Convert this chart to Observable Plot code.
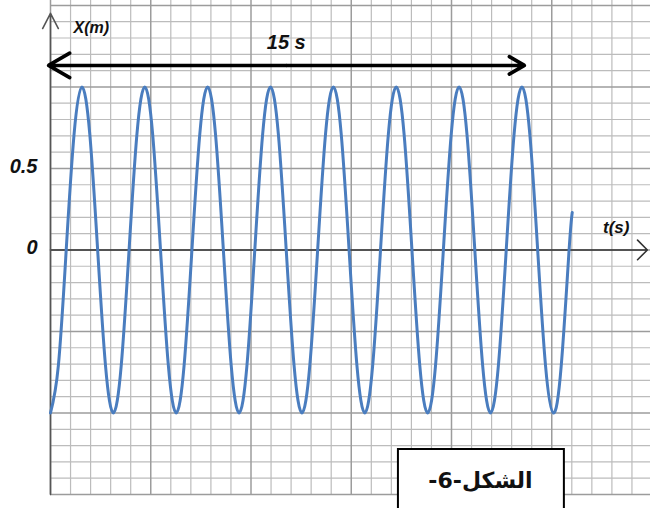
<!DOCTYPE html>
<html><head><meta charset="utf-8">
<script src="https://cdn.jsdelivr.net/npm/d3@7"></script>
<script src="https://cdn.jsdelivr.net/npm/@observablehq/plot@0.6"></script>
<style>html,body{margin:0;padding:0;background:#fff} #chart svg{display:block}</style>
</head><body><div id="chart"></div>
<script>
// Oscillation: t (s) and X (m)
const time = [0,0.25,0.5,0.75,1,1.25,1.5,1.75,2,2.25,2.5,2.75,3,3.25,3.5,3.75,4,4.25,4.5,4.75,5,5.25,5.5,5.75,6,6.25,6.5,6.75,7,7.25,7.5,7.75,8,8.25,8.5,8.75,9,9.25,9.5,9.75,10,10.25,10.5,10.75,11,11.25,11.5,11.75,12,12.25,12.5,12.75,13,13.25,13.5,13.75,14,14.25,14.5,14.75,15,15.25,15.5,15.75,16,16.25,16.5,16.6];
const position = [
  -1,-0.71,0,0.71,1,0.71,0,-0.71,
  -1,-0.71,0,0.71,1,0.71,0,-0.71,
  -1,-0.71,0,0.71,1,0.71,0,-0.71,
  -1,-0.71,0,0.71,1,0.71,0,-0.71,
  -1,-0.71,0,0.71,1,0.71,0,-0.71,
  -1,-0.71,0,0.71,1,0.71,0,-0.71,
  -1,-0.71,0,0.71,1,0.71,0,-0.71,
  -1,-0.71,0,0.71,1,0.71,0,-0.71,
  -1,-0.71,0,0.23
];
const yTickValues = [0.5, 0];
const yTickLabels = ["0.5", "0"];
const xAxisLabel = "t(s)";
const yAxisLabel = "X(m)";
const spanLabel = "15 s";
const spanStart = 0, spanEnd = 15;
const figureLabel = "الشكل-6-\u200F";

const xMax = 19.09;
const yMin = -1.5, yMax = 1.53;
const gridStepT = 20.05 / 31.43;   // graph-paper square width in seconds
const gridStepY = 0.1;

const gridV = d3.range(0, 30).map(k => ({t: k * gridStepT, major: k % 5 === 0}));
const gridH = d3.range(-15, 16).map(k => ({y: k * gridStepY, major: k % 5 === 0}));
const curve = time.map((t, i) => ({t, x: position[i]}));
const ticks = yTickValues.map((v, i) => ({v, label: yTickLabels[i]}));

const labelFont = {fontFamily: "Liberation Sans, Arial, sans-serif", fontWeight: "bold", fontStyle: "italic", fill: "#111"};

const chart = Plot.plot({
  width: 650, height: 508,
  marginLeft: 50, marginRight: 0, marginTop: 0, marginBottom: 14,
  x: {domain: [0, xMax], axis: null},
  y: {domain: [yMin, yMax], axis: null},
  style: {background: "#fff", overflow: "visible"},
  marks: [
    Plot.ruleY(gridH.filter(d => !d.major), {y: "y", x1: 0, x2: xMax, stroke: "#bcbcbc", strokeWidth: 1.2}),
    Plot.ruleX(gridV.filter(d => !d.major), {x: "t", y1: yMin, y2: yMax, stroke: "#bcbcbc", strokeWidth: 1.2}),
    Plot.ruleY(gridH.filter(d => d.major), {y: "y", x1: 0, x2: xMax, stroke: "#9c9c9c", strokeWidth: 1.5}),
    Plot.ruleX(gridV.filter(d => d.major), {x: "t", y1: yMin, y2: yMax, stroke: "#9c9c9c", strokeWidth: 1.5}),
    // axes with arrows
    Plot.arrow([{x1: 0, y1: 0, x2: 18.99, y2: 0}], {x1: "x1", y1: "y1", x2: "x2", y2: "y2", stroke: "#333", strokeWidth: 1.6, headAngle: 90, headLength: 13}),
    Plot.arrow([{x1: 0, y1: yMin, x2: 0, y2: 1.451}], {x1: "x1", y1: "y1", x2: "x2", y2: "y2", stroke: "#555", strokeWidth: 1.6, headAngle: 55, headLength: 16}),
    // oscillation
    Plot.line(curve, {x: "t", y: "x", curve: "natural", stroke: "#4a7dbf", strokeWidth: 3}),
    // 15 s double arrow
    Plot.arrow([{x1: (spanStart + spanEnd) / 2, x2: spanStart - 0.064, y: 1.132}], {x1: "x1", x2: "x2", y1: "y", y2: "y", stroke: "#000", strokeWidth: 3.5, headAngle: 60, headLength: 10.5}),
    Plot.arrow([{x1: (spanStart + spanEnd) / 2, x2: spanEnd + 0.08, y: 1.132}], {x1: "x1", x2: "x2", y1: "y", y2: "y", stroke: "#000", strokeWidth: 3.5, headAngle: 60, headLength: 7.5}),
    Plot.text([spanLabel], {x: (spanStart + spanEnd) / 2, y: 1.273, text: d => d, fontSize: 20, textAnchor: "middle", ...labelFont}),
    // labels
    Plot.text(ticks, {x: 0, y: "v", text: "label", textAnchor: "end", fontSize: 20, ...labelFont, dx: -13, dy: -2}),
    Plot.text([yAxisLabel], {x: 0, y: 1.365, text: d => d, textAnchor: "start", dx: 23, fontSize: 16, ...labelFont}),
    Plot.text([xAxisLabel], {x: 18.0, y: 0.138, text: d => d, textAnchor: "middle", fontSize: 17, ...labelFont}),
    // figure label box
    Plot.rect([{x1: 11.07, x2: 16.35, y1: -1.224, y2: -1.62}], {x1: "x1", x2: "x2", y1: "y1", y2: "y2", fill: "#fff", stroke: "#000", strokeWidth: 2}),
    Plot.text([figureLabel], {x: 13.68, y: -1.414, text: d => d, textAnchor: "middle", fontSize: 22, fontWeight: "bold", fontFamily: "DejaVu Sans, sans-serif", fill: "#111"})
  ]
});
document.getElementById("chart").append(chart);
</script>
</body></html>
